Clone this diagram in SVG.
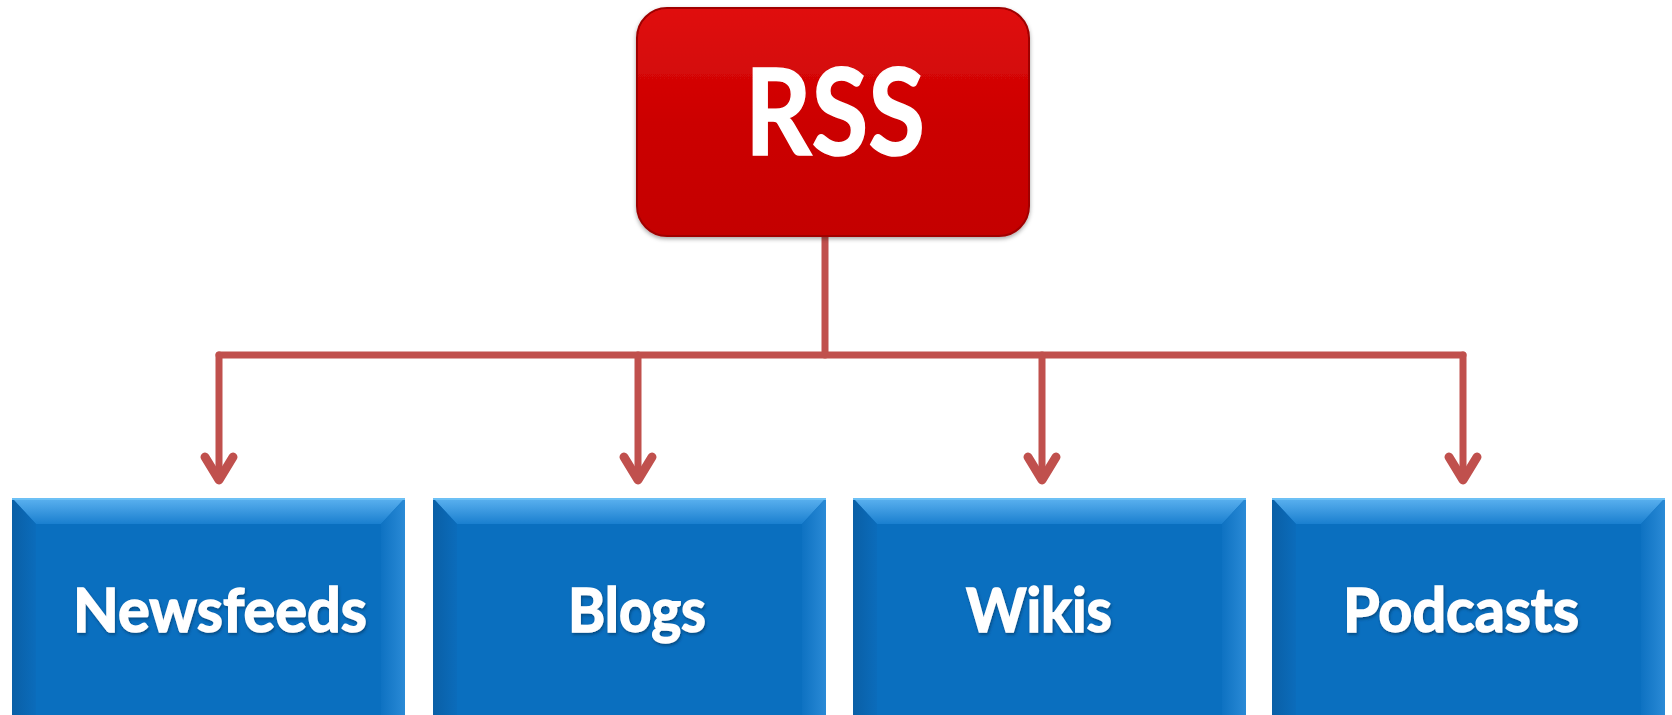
<svg xmlns="http://www.w3.org/2000/svg" width="1672" height="715" viewBox="0 0 1672 715">
<style>
.conn{fill:none;stroke:#c0504d;stroke-width:7;stroke-linecap:round;stroke-linejoin:round}
.head{fill:none;stroke:#c0504d;stroke-width:9;stroke-linecap:round;stroke-linejoin:round}
.lbl{font-family:Lato,"Liberation Sans",sans-serif;font-weight:bold;fill:#ffffff;stroke:#ffffff;stroke-width:1.5;text-anchor:middle}
</style>
<defs>
<linearGradient id="red" x1="0" y1="0" x2="0" y2="1">
<stop offset="0" stop-color="#e01010"/>
<stop offset="0.5" stop-color="#cc0000"/>
<stop offset="1" stop-color="#c40000"/>
</linearGradient>
<linearGradient id="topBevel" x1="0" y1="0" x2="0" y2="1">
<stop offset="0" stop-color="#5cb2f0"/>
<stop offset="1" stop-color="#1a7fcf"/>
</linearGradient>
<linearGradient id="leftBevel" x1="0" y1="0" x2="1" y2="0">
<stop offset="0" stop-color="#0a5fa6"/>
<stop offset="1" stop-color="#0b6cbb"/>
</linearGradient>
<linearGradient id="rightBevel" x1="1" y1="0" x2="0" y2="0">
<stop offset="0" stop-color="#2a8ad6"/>
<stop offset="1" stop-color="#0e72c2"/>
</linearGradient>
<filter id="sh" x="-10%" y="-10%" width="120%" height="130%">
<feDropShadow dx="0" dy="2" stdDeviation="2" flood-color="#000" flood-opacity="0.35"/>
</filter>
<filter id="tsh" x="-10%" y="-20%" width="120%" height="140%">
<feDropShadow dx="1" dy="2" stdDeviation="1.5" flood-color="#03305a" flood-opacity="0.6"/>
</filter>
<g id="bluebox">
<rect x="0" y="0" width="393" height="217" fill="#0a6fbf"/>
<polygon points="0,0 393,0 369,26 24,26" fill="url(#topBevel)"/>
<polygon points="0,0 24,26 24,217 0,217" fill="url(#leftBevel)"/>
<polygon points="393,0 369,26 369,217 393,217" fill="url(#rightBevel)"/>
<rect x="0" y="0" width="393" height="2" fill="#6cc0f5"/>
</g>
</defs>
<g id="connectors">
<polyline class="conn" points="825,237 825,355"/>
<polyline class="conn" points="219,355 1463,355"/>
<polyline class="conn" points="219,355 219,478"/>
<polyline class="conn" points="638,355 638,478"/>
<polyline class="conn" points="1042,355 1042,478"/>
<polyline class="conn" points="1463,355 1463,478"/>
<polyline class="head" points="205,457 219,480 233,457"/>
<polyline class="head" points="624,457 638,480 652,457"/>
<polyline class="head" points="1028,457 1042,480 1056,457"/>
<polyline class="head" points="1449,457 1463,480 1477,457"/>
</g>
<g id="rss">
<rect x="637" y="8" width="392" height="228" rx="30" ry="30" fill="url(#red)" stroke="#a00000" stroke-width="2" filter="url(#sh)"/>
<text class="lbl" x="835" y="155" font-size="120" textLength="180" lengthAdjust="spacingAndGlyphs" stroke-width="2">RSS</text>
</g>
<g id="newsfeeds">
<use href="#bluebox" x="12" y="498"/>
<text class="lbl" x="220" y="632" font-size="61" textLength="294" lengthAdjust="spacingAndGlyphs" filter="url(#tsh)">Newsfeeds</text>
</g>
<g id="blogs">
<use href="#bluebox" x="433" y="498"/>
<text class="lbl" x="637" y="632" font-size="61" textLength="138" lengthAdjust="spacingAndGlyphs" filter="url(#tsh)">Blogs</text>
</g>
<g id="wikis">
<use href="#bluebox" x="853" y="498"/>
<text class="lbl" x="1039" y="632" font-size="61" textLength="146" lengthAdjust="spacingAndGlyphs" filter="url(#tsh)">Wikis</text>
</g>
<g id="podcasts">
<use href="#bluebox" x="1272" y="498"/>
<text class="lbl" x="1461" y="632" font-size="61" textLength="236" lengthAdjust="spacingAndGlyphs" filter="url(#tsh)">Podcasts</text>
</g>
</svg>
